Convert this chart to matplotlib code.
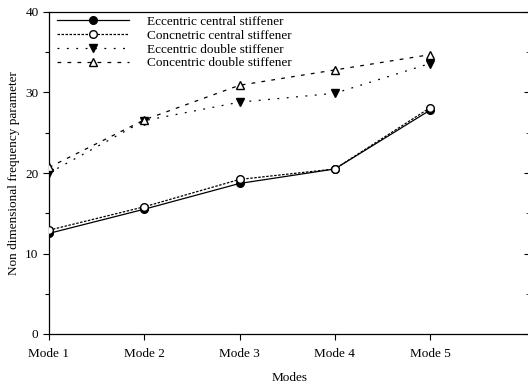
import matplotlib.pyplot as plt
import numpy as np

modes = ["Mode 1", "Mode 2", "Mode 3", "Mode 4", "Mode 5"]
ecc_central = [12.5, 15.5, 18.7, 20.5, 27.8]
con_central = [12.9, 15.8, 19.2, 20.5, 28.1]
ecc_double = [20.0, 26.5, 28.8, 29.9, 33.6]
con_double = [20.7, 26.6, 30.9, 32.8, 34.7]

plt.rcParams['font.family'] = ['Liberation Serif', 'DejaVu Serif']

fig = plt.figure(figsize=(5.28, 3.87), dpi=100)
# right spine sits just past the image edge, as in the source picture
ax = fig.add_axes([49 / 528, 1 - 334 / 387, (530 - 49) / 528, (334 - 12) / 387])

x = np.arange(1, len(modes) + 1)

ax.plot(x, ecc_central, color="black", lw=0.9, ls="-", marker="o", ms=5.5,
        mfc="black", mec="black", label="Eccentric central stiffener")
ax.plot(x, con_central, color="black", lw=0.9, ls=(0, (2, 1.2)), marker="o", ms=5.5,
        mfc="white", mec="black", label="Concnetric central stiffener", zorder=3)
ax.plot(x, ecc_double, color="black", lw=0.9, ls=(0, (1.5, 6)), marker="v", ms=6,
        mfc="black", mec="black", label="Eccentric double stiffener")
ax.plot(x, con_double, color="black", lw=0.9, ls=(0, (3, 5)), marker="^", ms=6,
        mfc="white", mec="black", label="Concentric double stiffener", zorder=3)

ax.set_xlim(1, 1 + (530 - 49) / 95.25)
ax.set_ylim(0, 40)
ax.set_xticks(x)
ax.set_xticklabels(modes)
ax.set_yticks([0, 10, 20, 30, 40])
ax.set_yticks([5, 15, 25, 35], minor=True)
ax.tick_params(axis="both", labelsize=9.5, direction="out", length=4, width=0.8)
ax.tick_params(axis="y", which="minor", direction="out", length=3, width=0.8)
ax.tick_params(axis="x", pad=6)
ax.spines["right"].set_visible(False)

# inward ticks on the right edge
ax2 = ax.twinx()
ax2.set_ylim(0, 40)
ax2.set_yticks([0, 10, 20, 30, 40])
ax2.set_yticks([5, 15, 25, 35], minor=True)
ax2.tick_params(axis="y", which="major", direction="in", length=4, width=0.8, labelright=False)
ax2.tick_params(axis="y", which="minor", direction="in", length=3, width=0.5, labelright=False)
for s in ax2.spines.values():
    s.set_visible(False)

ax.set_xlabel("Modes", fontsize=9.5, labelpad=9)
ax.set_ylabel("Non dimensional frequency parameter", fontsize=9.5, labelpad=4)

for s in ax.spines.values():
    s.set_linewidth(0.9)

ax.legend(loc="upper left", frameon=False, fontsize=9.5, handlelength=5.5,
          handletextpad=1.3, labelspacing=0.12, borderaxespad=0.2,
          bbox_to_anchor=(0.0, 1.013))

fig.savefig("out.png", dpi=100)
